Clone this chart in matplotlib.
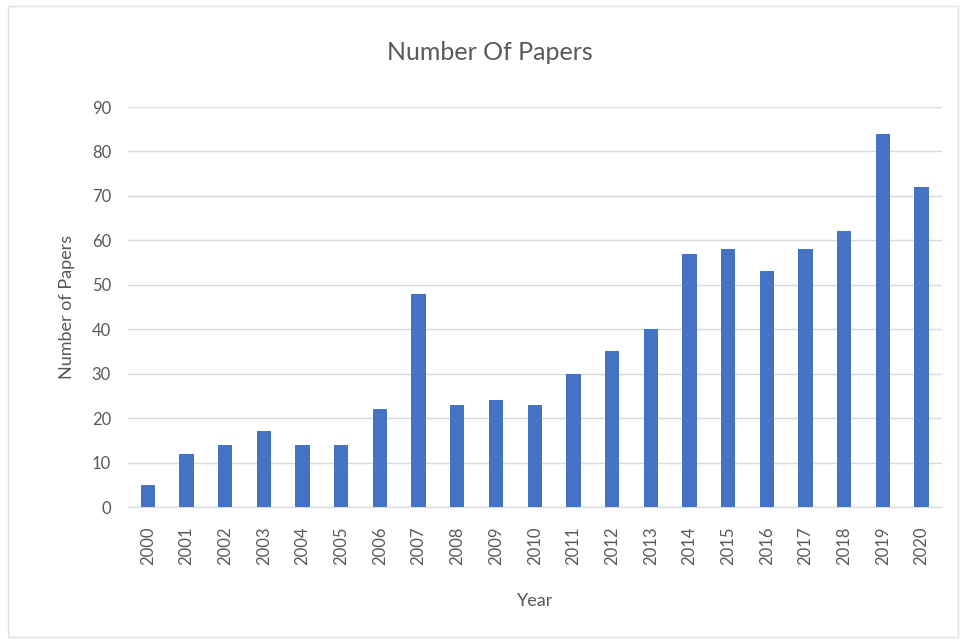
import matplotlib
matplotlib.use("Agg")
import matplotlib.pyplot as plt
import matplotlib.patches as patches

# Data
years = [str(y) for y in range(2000, 2021)]
papers = [5, 12, 14, 17, 14, 14, 22, 48, 23, 24, 23, 30, 35, 40, 57, 58, 53, 58, 62, 84, 72]
y_ticks = [0, 10, 20, 30, 40, 50, 60, 70, 80, 90]

plt.rcParams['font.family'] = ['Lato', 'DejaVu Sans']
text_col = '#595959'

fig = plt.figure(figsize=(9.6, 6.41), dpi=100)
ax = fig.add_axes([0.133, 0.209, 0.848, 0.624])

x = range(len(years))
ax.bar(x, papers, width=0.37, color='#4472C4', zorder=3)

ax.set_xlim(-0.52, len(years) - 0.48)
ax.set_ylim(0, 90)
ax.set_yticks(y_ticks)
ax.set_xticks(list(x))
ax.set_xticklabels(years, rotation=90, fontsize=12, color=text_col)
ax.tick_params(axis='y', labelsize=12, labelcolor=text_col, length=0, pad=12)
ax.tick_params(axis='x', length=0, pad=14)
ax.yaxis.grid(True, color='#D9D9D9', linewidth=1, zorder=0)
for s in ['top', 'right', 'left']:
    ax.spines[s].set_visible(False)
ax.spines['bottom'].set_color('#D9D9D9')

ax.set_ylabel("Number of Papers", fontsize=13, color=text_col, labelpad=12)
ax.set_xlabel("Year", fontsize=13, color=text_col, labelpad=20)
fig.text(0.51, 0.918, "Number Of Papers", ha='center', va='center', fontsize=18, color=text_col)

# Outer frame like the chart area border
fig.patches.append(patches.Rectangle((0.008, 0.006), 0.99, 0.985, transform=fig.transFigure,
                                     fill=False, edgecolor='#E0E0E0', linewidth=1))

fig.savefig("out.png", dpi=100)
